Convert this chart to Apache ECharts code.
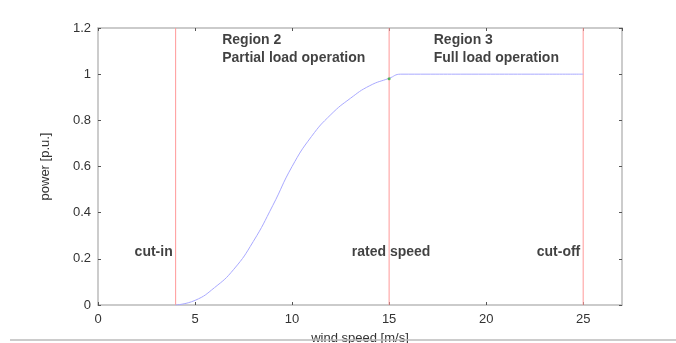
<!DOCTYPE html>
<html>
<head>
<meta charset="utf-8">
<script src="https://cdn.jsdelivr.net/npm/echarts@6/dist/echarts.min.js"></script>
<style>
  html, body { margin: 0; padding: 0; background: #fff; }
  #chart { width: 676px; height: 343px; }
</style>
</head>
<body>
<div id="chart"></div>
<script>
// power curve
const windSpeed = [4, 5, 6, 7, 8, 9, 10, 11, 12, 13, 14, 15, 15.6, 20, 25];
const power = [0, 0.02, 0.075, 0.155, 0.275, 0.43, 0.6, 0.73, 0.825, 0.895, 0.95, 0.982, 1, 1, 1];

// vertical markers (cut-in, rated, cut-off)
const markerSpeeds = [4, 15, 25];
const markerRange = [0, 1.2];
const ratedPoint = [15, 0.98];

// annotation texts: [x, y, text, align]
const notes = [
  [6.4, 1.11, 'Region 2\nPartial load operation', 'left'],
  [17.3, 1.11, 'Region 3\nFull load operation', 'left'],
  [3.85, 0.23, 'cut-in', 'right'],
  [15.1, 0.23, 'rated speed', 'center'],
  [24.85, 0.23, 'cut-off', 'right']
];

const chart = echarts.init(document.getElementById('chart'));

const fontFamily = 'Liberation Sans, Arial, sans-serif';
const labelFont = { color: '#333', fontSize: 13, fontFamily: fontFamily };
const frameLine = { show: true, onZero: false, lineStyle: { color: '#bbb', width: 1.5 } };
const frameTick = { show: true, inside: true, length: 3, lineStyle: { color: '#555' } };

// red vertical marker lines, one small series each
const markerSeries = markerSpeeds.map(x => ({
  type: 'line',
  data: markerRange.map(y => [x, y]),
  showSymbol: false,
  silent: true,
  lineStyle: { color: '#ff9999', width: 1 },
  z: 2
}));

chart.setOption({
  animation: false,
  grid: { left: 98, right: 54, top: 28, bottom: 38, containLabel: false, outerBoundsMode: 'none' },
  xAxis: [
    {
      type: 'value', min: 0, max: 27, interval: 5,
      name: 'wind speed [m/s]', nameLocation: 'middle', nameGap: 27,
      nameTextStyle: labelFont,
      axisLine: frameLine,
      axisTick: frameTick,
      axisLabel: Object.assign({ margin: 8, showMaxLabel: false }, labelFont),
      splitLine: { show: false }
    },
    {
      type: 'value', min: 0, max: 27, interval: 5, position: 'top',
      axisLine: frameLine,
      axisTick: frameTick,
      axisLabel: { show: false },
      splitLine: { show: false }
    }
  ],
  yAxis: [
    {
      type: 'value', min: 0, max: 1.2, interval: 0.2,
      name: 'power [p.u.]', nameLocation: 'middle', nameGap: 46,
      nameTextStyle: labelFont,
      axisLine: frameLine,
      axisTick: frameTick,
      axisLabel: Object.assign({
        margin: 7,
        formatter: v => String(Math.round(v * 10) / 10)
      }, labelFont),
      splitLine: { show: false }
    },
    {
      type: 'value', min: 0, max: 1.2, interval: 0.2, position: 'right',
      axisLine: frameLine,
      axisTick: frameTick,
      axisLabel: { show: false },
      splitLine: { show: false }
    }
  ],
  series: markerSeries.concat([
    {
      type: 'line',
      data: windSpeed.map((x, i) => [x, power[i]]),
      smooth: 0.5,
      showSymbol: false,
      lineStyle: { color: '#a9a9ff', width: 1 },
      z: 3
    },
    {
      type: 'scatter',
      data: [ratedPoint],
      symbol: 'circle',
      symbolSize: 3,
      itemStyle: { color: '#3a3' },
      z: 4
    },
    {
      type: 'scatter',
      symbolSize: 0,
      data: notes.map(n => ({
        value: [n[0], n[1]],
        name: n[2],
        label: {
          position: n[3] === 'left' ? 'right' : (n[3] === 'right' ? 'left' : 'inside'),
          distance: 0,
          align: n[3],
          verticalAlign: 'middle'
        }
      })),
      label: {
        show: true,
        formatter: p => p.name,
        color: '#111',
        fontSize: 14,
        fontWeight: 'bold',
        fontFamily: fontFamily,
        lineHeight: 18
      },
      z: 5
    }
  ]),
  graphic: [
    {
      type: 'line',
      shape: { x1: 10, y1: 340, x2: 676, y2: 340 },
      style: { stroke: '#bbb', lineWidth: 1.5 },
      z: 10
    }
  ]
});
</script>
</body>
</html>
